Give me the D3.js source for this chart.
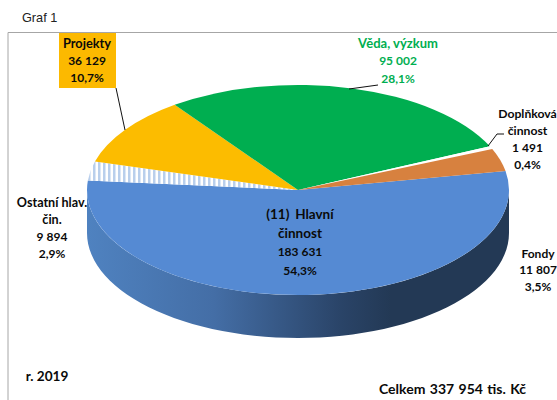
<!DOCTYPE html>
<html>
<head>
<meta charset="utf-8">
<script src="https://cdn.jsdelivr.net/npm/d3@7"></script>
<style>
  html, body { margin: 0; padding: 0; background: #fff; }
  svg { display: block; }
  text { font-family: Lato, "Open Sans", sans-serif; font-weight: 700; font-size: 12px; fill: #0a0a0a; text-anchor: middle; }
</style>
</head>
<body>
<div id="chart"></div>
<script>
// values, in tis. Kc
var categories = ["(11) Hlavní činnost", "Ostatní hlav. čin.", "Projekty", "Věda, výzkum", "Doplňková činnost", "Fondy"];
var values = [183631, 9894, 36129, 95002, 1491, 11807];
var valueLabels = ["183 631", "9 894", "36 129", "95 002", "1 491", "11 807"];
var percentLabels = ["54,3%", "2,9%", "10,7%", "28,1%", "0,4%", "3,5%"];
var colors = ["#558ad3", "url(#hatch)", "#fcbc00", "#00ae50", "#ffffff", "#d7813f"];

var width = 557, height = 400;
var cx = 298, cy = 190, rx = 211, ry = 105, depth = 43;

var svg = d3.select("#chart").append("svg")
    .attr("width", width)
    .attr("height", height);

var defs = svg.append("defs");

// stripes of the small slice
var hatch = defs.append("pattern")
    .attr("id", "hatch")
    .attr("patternUnits", "userSpaceOnUse")
    .attr("width", 5)
    .attr("height", 5);
hatch.append("rect").attr("width", 5).attr("height", 5).attr("fill", "#ffffff");
hatch.append("rect").attr("width", 2.5).attr("height", 5).attr("fill", "#b9cfec");

// shading of the pie wall
var wallGrad = defs.append("linearGradient")
    .attr("id", "wallGrad")
    .attr("gradientUnits", "userSpaceOnUse")
    .attr("x1", cx - rx).attr("x2", cx + rx)
    .attr("y1", 0).attr("y2", 0);
wallGrad.append("stop").attr("offset", "0").attr("stop-color", "#4f82c0");
wallGrad.append("stop").attr("offset", "0.3").attr("stop-color", "#446ea6");
wallGrad.append("stop").attr("offset", "0.6").attr("stop-color", "#2a4468");
wallGrad.append("stop").attr("offset", "0.72").attr("stop-color", "#233955");
wallGrad.append("stop").attr("offset", "1").attr("stop-color", "#233955");

// chart frame, open on the right and at the bottom
svg.append("path")
    .attr("d", d3.line()([[8, height], [8, 32.5], [width, 32.5]]))
    .attr("fill", "none")
    .attr("stroke", "#a6a6a6")
    .attr("stroke-width", 1);

svg.append("text")
    .attr("x", 22).attr("y", 22)
    .style("font-family", "'Liberation Sans', Arial, sans-serif")
    .style("font-weight", 400)
    .style("font-size", "12.7px")
    .style("text-anchor", "start")
    .style("fill", "#222")
    .text("Graf 1");

// start angle puts the blue slice where it begins in the picture
var startAngle = 79.6 * Math.PI / 180;
var pie = d3.pie().sort(null).startAngle(startAngle).endAngle(startAngle + 2 * Math.PI);
var slices = pie(values);

// wall of the pie
var steps = d3.range(0, 181, 3);
var wallPoints = steps.map(function(a) {
    var t = a * Math.PI / 180;
    return [cx - rx * Math.cos(t), cy + depth + ry * Math.sin(t)];
});
var topPoints = steps.slice().reverse().map(function(a) {
    var t = a * Math.PI / 180;
    return [cx - rx * Math.cos(t), cy + ry * Math.sin(t)];
});
svg.append("path")
    .attr("d", d3.line()(wallPoints.concat(topPoints)) + "Z")
    .attr("fill", "url(#wallGrad)");

// top face, a circle squashed to an ellipse
var arc = d3.arc().innerRadius(0).outerRadius(rx);
svg.append("g")
    .attr("transform", "translate(" + cx + "," + cy + ") scale(1," + (ry / rx) + ")")
    .selectAll("path")
    .data(slices)
    .enter()
    .append("path")
    .attr("d", arc)
    .attr("fill", function(d, i) { return colors[i]; });

// leader lines
var leaders = [
    [[116, 88], [125, 130]],
    [[378, 85], [349, 89]],
    [[504, 134], [497, 134], [488, 146]]
];
svg.selectAll("path.leader")
    .data(leaders)
    .enter()
    .append("path")
    .attr("class", "leader")
    .attr("d", d3.line())
    .attr("fill", "none")
    .attr("stroke", "#111")
    .attr("stroke-width", 1);

// label box of Projekty
svg.append("rect")
    .attr("x", 59).attr("y", 33)
    .attr("width", 57).attr("height", 55)
    .attr("fill", "#fcb900");

// labels, one text per row; name rows are a bit larger than the numbers
var labelRows = [
    { x: 300, y: 219, h: 18.7, size: 13.5, spacing: 2.5, names: ["(11) Hlavní", "činnost"], nums: [valueLabels[0], percentLabels[0]] },
    { x: 52, y: 206.5, h: 17, size: 12.6, spacing: 0, names: ["Ostatní hlav.", "čin."], nums: [valueLabels[1], percentLabels[1]] },
    { x: 87, y: 48, h: 17, size: 12.8, spacing: 0, names: ["Projekty"], nums: [valueLabels[2], percentLabels[2]] },
    { x: 398, y: 48, h: 17.3, size: 13, spacing: 0, names: ["Věda, výzkum"], nums: [valueLabels[3], percentLabels[3]], fill: "#00ae50" },
    { x: 527.5, y: 118, h: 17, size: 12.2, spacing: 0, names: ["Doplňková", "činnost"], nums: [valueLabels[4], percentLabels[4]] },
    { x: 538, y: 257.5, h: 16.5, size: 12, spacing: 0, names: ["Fondy"], nums: [valueLabels[5], percentLabels[5]] }
];
labelRows.forEach(function(l) {
    svg.append("g").selectAll("text")
        .data(l.names.concat(l.nums))
        .enter()
        .append("text")
        .attr("x", l.x)
        .attr("y", function(d, i) { return l.y + i * l.h; })
        .style("fill", l.fill || null)
        .style("font-size", function(d, i) { return (i < l.names.length ? l.size : 12) + "px"; })
        .style("word-spacing", function(d, i) { return (i < l.names.length ? l.spacing : 0) + "px"; })
        .text(function(d) { return d; });
});

svg.append("text").attr("x", 47).attr("y", 381).style("font-size", "13.6px").text("r. 2019");
svg.append("text").attr("x", 452.5).attr("y", 394).style("font-size", "14px").style("word-spacing", "1px").text("Celkem 337 954 tis. Kč");
</script>
</body>
</html>
